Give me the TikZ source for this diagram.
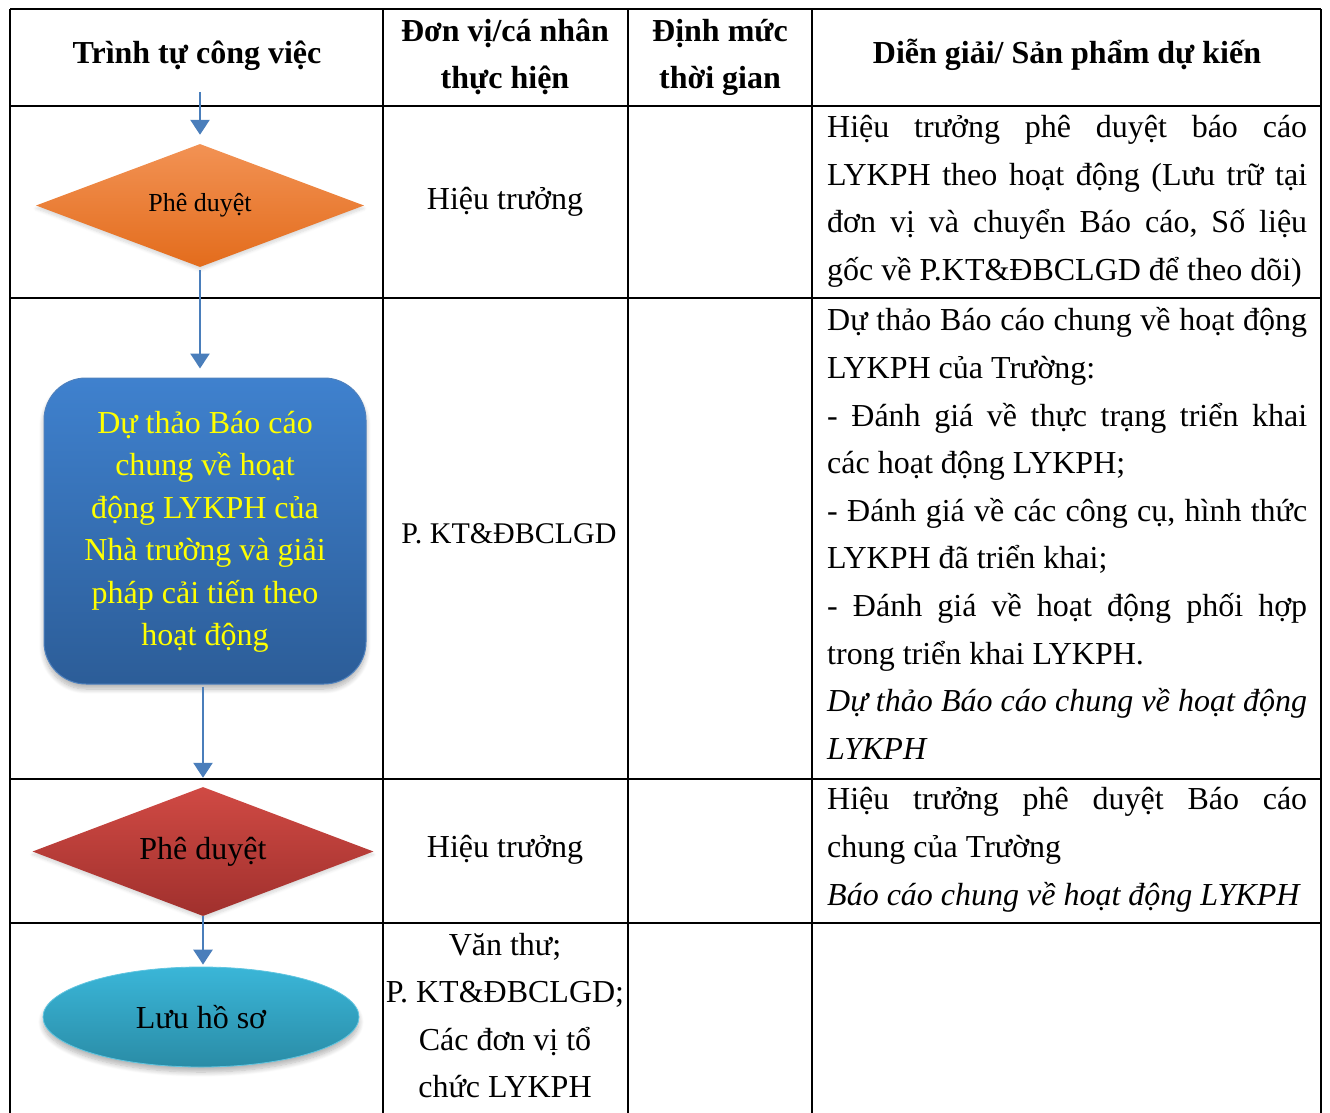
\documentclass[tikz,border=0pt]{standalone}
\usepackage{fontspec}
\setmainfont{Liberation Serif}
\usetikzlibrary{shapes.geometric,arrows.meta,shadows.blur}
\frenchspacing
\definecolor{flowblue}{HTML}{4A7EBB}
\definecolor{orgTop}{HTML}{F29254}
\definecolor{orgBot}{HTML}{E36C1C}
\definecolor{boxTop}{HTML}{3F81CE}
\definecolor{boxBot}{HTML}{2C5D98}
\definecolor{boxEdge}{HTML}{4F81BD}
\definecolor{redTop}{HTML}{D04A44}
\definecolor{redBot}{HTML}{A0302D}
\definecolor{cyTop}{HTML}{3AB6D8}
\definecolor{cyBot}{HTML}{2A8CA6}
\definecolor{txtYellow}{HTML}{FFFF00}
\newcommand\jline[1]{\makebox[480pt][s]{\spaceskip=0pt\xspaceskip=0pt\strut #1}}
\newcommand\pline[1]{\mbox{\spaceskip=0pt\xspaceskip=0pt\strut #1}}
\tikzset{
  grid/.style={draw=black, line width=2.3pt},
  flow/.style={draw=flowblue, line width=2.6pt, -{Triangle[width=19pt,length=15pt]}},
  body/.style={font=\fontsize{32}{47.6}\selectfont, inner sep=0pt},
  head/.style={font=\fontsize{32}{47}\selectfont\bfseries, inner sep=0pt, align=center},
  desc/.style={body, align=left, anchor=west},
  softshadow/.style={blur shadow={shadow xshift=0pt, shadow yshift=-5pt, shadow blur radius=5pt, shadow blur steps=8, shadow opacity=30}},
  faintshadow/.style={blur shadow={shadow xshift=0pt, shadow yshift=-3pt, shadow blur radius=3pt, shadow blur steps=6, shadow opacity=15}},
}
\begin{document}
\begin{tikzpicture}[x=1pt,y=-1pt]
\useasboundingbox (0,0) rectangle (1330,1113);
% table grid
\foreach \yy in {9,106,298,779,923} \draw[grid] (10,\yy) -- (1321,\yy);
\foreach \xx in {10,383,628,812,1321} \draw[grid] (\xx,9) -- (\xx,1113);
% header
\node[head] (h1) at (197,54) {\strut Trình tự công việc};
\node[head] (h2) at (505,55.5) {\strut Đơn vị/cá nhân\\\strut thực hiện};
\node[head] (h3) at (720,55.5) {\strut Định mức\\\strut thời gian};
\node[head] (h4) at (1067,54) {\strut Diễn giải/ Sản phẩm dự kiến};
% flow shapes
\node[diamond, shape aspect=2.67, minimum width=328pt, minimum height=123pt, inner sep=0pt,
      top color=orgTop, bottom color=orgBot, faintshadow, font=\fontsize{26}{30}\selectfont] (d1) at (200,205.5) {Phê duyệt};
\node[rectangle, rounded corners=42pt, minimum width=322pt, minimum height=306pt, inner sep=0pt,
      top color=boxTop, bottom color=boxBot, draw=boxEdge, line width=1pt, softshadow,
      text=txtYellow, align=center, font=\fontsize{32}{42.4}\selectfont] (box) at (205,531)
      {\strut Dự thảo Báo cáo\\\strut chung về hoạt\\\strut động LYKPH của\\\strut Nhà trường và giải\\\strut pháp cải tiến theo\\\strut hoạt động};
\node[diamond, shape aspect=2.64, minimum width=341pt, minimum height=129pt, inner sep=0pt,
      top color=redTop, bottom color=redBot, faintshadow, font=\fontsize{32}{36}\selectfont] (d2) at (203,851.5) {Phê duyệt};
\node[ellipse, minimum width=316pt, minimum height=100pt, inner sep=0pt,
      top color=cyTop, bottom color=cyBot, draw=cyTop!80!white, line width=0.8pt, softshadow,
      font=\fontsize{32}{36}\selectfont] (ell) at (201,1017) {Lưu hồ sơ};
% connectors
\coordinate (start) at (200,92);
\draw[flow, shorten >=9pt] (start) -- (d1.north);
\draw[flow, shorten <=3pt, shorten >=9pt] (d1.south) -- (d1.south |- box.north);
\draw[flow, shorten <=2pt, shorten >=9pt] (box.south -| d2.north) -- (d2.north);
\draw[flow, shorten >=2pt] (d2.south) -- (d2.south |- ell.north);
% column 2
\node[body] (c21) at (505,200) {\strut Hiệu trưởng};
\node[body, font=\fontsize{30}{40}\selectfont] (c22) at (509,535) {\strut P. KT\&ĐBCLGD};
\node[body] (c23) at (505,848) {\strut Hiệu trưởng};
\node[body, align=center] (c24) at (505,1017) {\strut Văn thư;\\\strut P. KT\&ĐBCLGD;\\\strut Các đơn vị tổ\\\strut chức LYKPH};
% column 4
\node[desc] (c41) at (827,199.5) {%
\jline{Hiệu trưởng phê duyệt báo cáo}\\
\jline{LYKPH theo hoạt động (Lưu trữ tại}\\
\jline{đơn vị và chuyển Báo cáo, Số liệu}\\
\pline{gốc về P.KT\&ĐBCLGD để theo dõi)}};
\node[desc] (c42) at (827,535.5) {%
\jline{Dự thảo Báo cáo chung về hoạt động}\\
\pline{LYKPH của Trường:}\\
\jline{- Đánh giá về thực trạng triển khai}\\
\pline{các hoạt động LYKPH;}\\
\jline{- Đánh giá về các công cụ, hình thức}\\
\pline{LYKPH đã triển khai;}\\
\jline{- Đánh giá về hoạt động phối hợp}\\
\pline{trong triển khai LYKPH.}\\
\jline{\itshape Dự thảo Báo cáo chung về hoạt động}\\
\pline{\itshape LYKPH}};
\node[desc] (c43) at (827,848) {%
\jline{Hiệu trưởng phê duyệt Báo cáo}\\
\pline{chung của Trường}\\
\pline{\itshape Báo cáo chung về hoạt động LYKPH}};
\end{tikzpicture}
\end{document}
